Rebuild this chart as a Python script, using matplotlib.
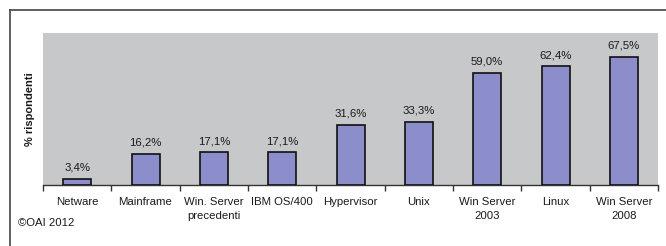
import matplotlib.pyplot as plt
from matplotlib.lines import Line2D

categories = ['Netware', 'Mainframe', 'Win. Server\nprecedenti', 'IBM OS/400',
              'Hypervisor', 'Unix', 'Win Server\n2003', 'Linux', 'Win Server\n2008']
values = [3.4, 16.2, 17.1, 17.1, 31.6, 33.3, 59.0, 62.4, 67.5]
value_labels = ['3,4%', '16,2%', '17,1%', '17,1%', '31,6%', '33,3%', '59,0%', '62,4%', '67,5%']

plt.rcParams['font.family'] = ['Liberation Sans', 'DejaVu Sans']

fig = plt.figure(figsize=(6.66, 2.46), dpi=100)
ax = fig.add_axes([0.0646, 0.248, 0.9234, 0.618])
ax.set_facecolor('#c7c8ca')

x = range(len(categories))
ax.bar(x, values, width=0.41, color='#8b8ecb', edgecolor='#111111', linewidth=1.2, zorder=3)

for xi, v, lab in zip(x, values, value_labels):
    ax.annotate(lab, (xi, v), xytext=(0, 4.5), textcoords='offset points',
                ha='center', va='bottom', fontsize=8.2, color='#1a1a1a')

ax.set_xlim(-0.5, len(categories) - 0.5)
ax.set_ylim(0, 80)
ax.set_xticks(x)
ax.set_xticklabels(categories, fontsize=8.2, color='#1a1a1a', linespacing=1.45)
ax.set_xticks([i - 0.5 for i in range(len(categories) + 1)], minor=True)
ax.tick_params(axis='x', which='major', length=0, pad=9)
ax.tick_params(axis='x', which='minor', length=4, width=1, color='#333333')
ax.set_yticks([])
ax.set_ylabel('% rispondenti', fontsize=8, fontweight='bold', color='#1a1a1a', labelpad=6)

for side in ['top', 'right', 'left']:
    ax.spines[side].set_visible(False)
ax.spines['bottom'].set_color('#333333')
ax.spines['bottom'].set_linewidth(1.0)

# outer frame (top and left edges)
fig.add_artist(Line2D([10 / 666, 1], [1 - 10 / 246, 1 - 10 / 246], color='#444444', lw=1.2))
fig.add_artist(Line2D([10 / 666, 10 / 666], [0, 1 - 10 / 246], color='#444444', lw=1.2))

fig.text(18 / 666, 1 - 223 / 246, '©OAI 2012', fontsize=8.2, color='#1a1a1a',
         ha='left', va='center')

fig.savefig('out.png', dpi=100)
